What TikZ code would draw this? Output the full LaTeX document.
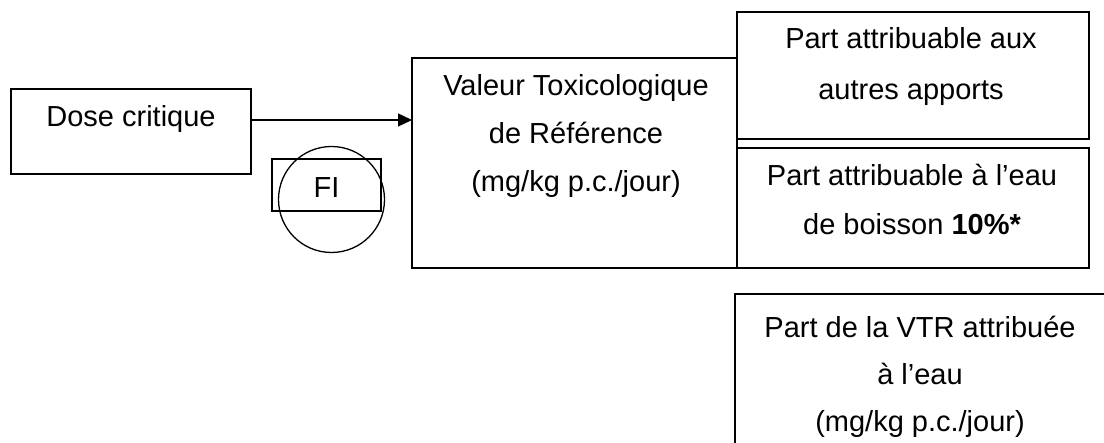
\documentclass[tikz,border=0pt]{standalone}
\usepackage{fontspec}
\setmainfont{Liberation Sans}
\usetikzlibrary{arrows.meta}

\tikzset{
  box/.style={draw, line width=0.65pt, rectangle, inner sep=0pt, outer sep=0pt},
  % multi-line labels: the base anchor sits on the last line's baseline
  txt/.style={align=center, anchor=base, inner sep=0pt},
  arr/.style={line width=0.65pt, -{Triangle[length=7pt,width=6.5pt]}},
}
\newcommand\txtsize[1]{\fontsize{14.5pt}{#1}\selectfont}

\begin{document}
\begin{tikzpicture}[x=0.5pt, y=-0.5pt]
  \clip (0,0) rectangle (1104,443);
  \fill[white] (0,0) rectangle (1104,443);

  % boxes
  \node[box, minimum width=120pt, minimum height=42.5pt] (dose) at (131,131.5) {};
  \node[box, minimum width=162.5pt, minimum height=105pt] (vtr) at (574.5,163) {};
  \node[box, minimum width=176pt, minimum height=63.5pt] (autres) at (913,75.5) {};
  \node[box, minimum width=176pt, minimum height=60pt] (eau) at (913,208) {};
  \node[box, minimum width=187.5pt, minimum height=83pt] (part) at (922.5,377) {};

  % safety factor
  \node[box, minimum width=54.5pt, minimum height=26pt, font=\txtsize{18pt},
        text height=13pt, text depth=0pt] (fi) at (326.5,185) {FI};
  \node[draw, line width=0.65pt, circle, minimum size=53pt, inner sep=0pt] (ficircle) at (331.5,199.5) {};

  % texts
  \node[txt, font=\txtsize{24pt}] (dosetxt) at (131,126.7) {Dose critique};
  \node[txt, font=\txtsize{24pt}] (vtrtxt) at (576,192) {Valeur Toxicologique\\de Référence\\(mg/kg p.c./jour)};
  \node[txt, font=\txtsize{25.5pt}] (autrestxt) at (911,99.5) {Part attribuable aux\\autres apports};
  \node[txt, font=\txtsize{24.5pt}] (eautxt) at (912,234.5) {Part attribuable à l’eau\\de boisson \textbf{10\%*}};
  \node[txt, font=\txtsize{23.3pt}] (parttxt) at (920,431) {Part de la VTR attribuée\\à l’eau\\(mg/kg p.c./jour)};

  % connector
  \coordinate (arrowstart) at ([yshift=5.75pt]dose.east);
  \draw[arr] (arrowstart) -- (arrowstart -| vtr.west);
\end{tikzpicture}
\end{document}
